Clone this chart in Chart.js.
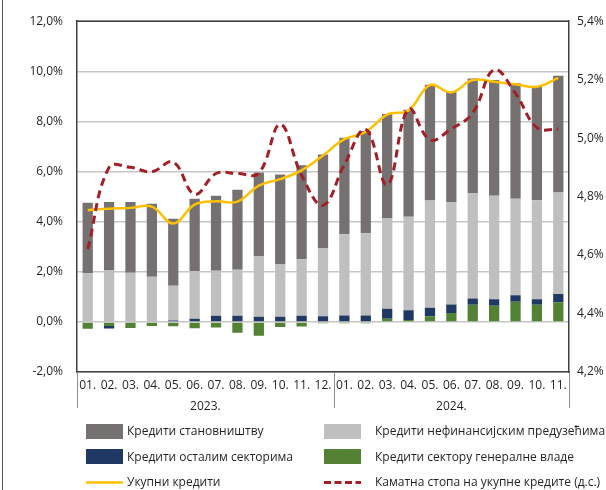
<!DOCTYPE html>
<html>
<head>
<meta charset="utf-8">
<script src="https://cdn.jsdelivr.net/npm/chart.js@4.4.1/dist/chart.umd.min.js"></script>
<style>
  body { margin: 0; background: #fff; }
  #wrap { position: relative; width: 606px; height: 490px; font-family: "Open Sans", sans-serif; color: #231f20; }
  #frame { position: absolute; left: 2px; top: 0; width: 1px; height: 490px; background: #555; }
  .item { position: absolute; font-size: 12px; line-height: 16px; white-space: nowrap; }
  .sw { position: absolute; width: 37px; height: 15px; }
  .sw svg { position: absolute; left: 0; top: 0; }
</style>
</head>
<body>
<div id="wrap">
  <canvas id="chart" width="606" height="490"></canvas>
  <div id="frame"></div>
  <div id="legend"></div>
</div>
<script>
// Month labels (2023-01 .. 2024-11) and year groups
const months = ['01.', '02.', '03.', '04.', '05.', '06.', '07.', '08.', '09.', '10.', '11.', '12.',
  '01.', '02.', '03.', '04.', '05.', '06.', '07.', '08.', '09.', '10.', '11.'];
const years = ['2023.', '2024.'];

// Contributions to credit growth, % (left axis)
const household = [2.81, 2.73, 2.82, 2.91, 2.68, 2.88, 2.99, 3.19, 3.33, 3.57, 3.75, 3.73,
  3.85, 4.08, 4.17, 4.27, 4.62, 4.41, 4.57, 4.62, 4.61, 4.56, 4.66];
const firms = [1.94, 2.05, 1.96, 1.80, 1.38, 1.90, 1.80, 1.84, 2.43, 2.11, 2.26, 2.73,
  3.25, 3.29, 3.61, 3.74, 4.28, 4.09, 4.21, 4.13, 3.85, 3.95, 4.05];
const others = [0.00, -0.10, 0.00, 0.00, 0.06, 0.13, 0.24, 0.24, 0.20, 0.20, 0.24, 0.22,
  0.25, 0.25, 0.39, 0.38, 0.34, 0.34, 0.25, 0.26, 0.26, 0.22, 0.33];
const government = [-0.27, -0.16, -0.24, -0.16, -0.17, -0.25, -0.22, -0.43, -0.55, -0.20, -0.18, -0.05,
  -0.05, -0.05, 0.13, 0.08, 0.22, 0.35, 0.68, 0.64, 0.80, 0.68, 0.78];
const total = [4.46, 4.52, 4.55, 4.60, 3.93, 4.68, 4.81, 4.80, 5.44, 5.70, 6.05, 6.64,
  7.29, 7.58, 8.27, 8.44, 9.45, 9.16, 9.65, 9.58, 9.48, 9.38, 9.74];

// Interest rate on total loans, % (right axis)
const rate = [4.62, 4.90, 4.90, 4.885, 4.918, 4.808, 4.879, 4.879, 4.88, 5.047, 4.873, 4.77,
  4.91, 5.03, 4.84, 5.10, 4.994, 5.032, 5.086, 5.234, 5.153, 5.036, 5.03];

const leftTicks = { min: -2, max: 12, step: 2 };
const rightTicks = { min: 4.2, max: 5.4, step: 0.2 };

const colors = {
  household: '#767171',
  firms: '#bfbfbf',
  others: '#1f3864',
  government: '#548235',
  total: '#ffc000',
  rate: '#a31f27',
};

const axisColor = '#404040';
const textColor = '#231f20';
const font = { family: '"Open Sans", sans-serif', size: 12 };
const pct = v => `${Number(v).toFixed(1).replace('.', ',')}%`;

// Year captions under the month labels, with separator lines
const yearPlugin = {
  id: 'yearGroups',
  afterDraw(chart) {
    const { ctx, chartArea: a, scales: { x } } = chart;
    ctx.save();
    // Top frame of the plot area
    ctx.strokeStyle = axisColor;
    ctx.lineWidth = 1.5;
    ctx.beginPath();
    ctx.moveTo(a.left, a.top);
    ctx.lineTo(a.right, a.top);
    ctx.stroke();

    const starts = months.map((m, i) => (m === '01.' ? i : -1)).filter(i => i >= 0);
    const edges = starts.map(s => (s === 0 ? x.left
      : (x.getPixelForValue(s - 1) + x.getPixelForValue(s)) / 2));
    edges.push(x.right);

    ctx.strokeStyle = '#8c8c8c';
    ctx.lineWidth = 1;
    edges.forEach((px) => {
      ctx.beginPath();
      ctx.moveTo(Math.round(px) + 0.5, a.bottom);
      ctx.lineTo(Math.round(px) + 0.5, a.bottom + 36);
      ctx.stroke();
    });

    ctx.fillStyle = textColor;
    ctx.font = `${font.size}px ${font.family}`;
    ctx.textAlign = 'center';
    ctx.textBaseline = 'middle';
    years.forEach((yr, k) => {
      ctx.fillText(yr, (edges[k] + edges[k + 1]) / 2, a.bottom + 35);
    });
    ctx.restore();
  },
};

const barSet = (label, data, color) => ({
  type: 'bar', label, data, backgroundColor: color, yAxisID: 'y', order: 2,
  categoryPercentage: 1, barPercentage: 0.48, stack: 'loans',
});

const chart = new Chart(document.getElementById('chart'), {
  data: {
    labels: months,
    datasets: [
      barSet('Кредити сектору генералне владе', government, colors.government),
      barSet('Кредити осталим секторима', others, colors.others),
      barSet('Кредити нефинансијским предузећима', firms, colors.firms),
      barSet('Кредити становништву', household, colors.household),
      {
        type: 'line', label: 'Укупни кредити', data: total, yAxisID: 'y', order: 1,
        borderColor: colors.total, borderWidth: 2.5, pointRadius: 0, tension: 0.4, fill: false,
      },
      {
        type: 'line', label: 'Каматна стопа на укупне кредите (д.с.)', data: rate, yAxisID: 'y1', order: 0,
        borderColor: colors.rate, borderWidth: 3, borderDash: [8, 5], pointRadius: 0, tension: 0.4, fill: false,
      },
    ],
  },
  options: {
    responsive: false,
    animation: false,
    devicePixelRatio: 1,
    layout: { padding: { top: 15, left: 0, right: 0, bottom: 0 } },
    plugins: { legend: { display: false }, tooltip: { enabled: false } },
    scales: {
      x: {
        stacked: true,
        grid: { display: false, drawTicks: false },
        border: { color: axisColor, width: 1.5 },
        ticks: { autoSkip: false, maxRotation: 0, padding: 6, color: textColor, font },
        afterFit: (s) => { s.height = 118; },
      },
      y: {
        stacked: true,
        position: 'left',
        min: leftTicks.min,
        max: leftTicks.max,
        grid: { color: '#c6c6c6', lineWidth: 1.5, drawTicks: false },
        border: { color: axisColor, width: 1.5 },
        ticks: { stepSize: leftTicks.step, padding: 14, color: textColor, font, callback: pct },
        afterFit: (s) => { s.width = 77; },
      },
      y1: {
        position: 'right',
        min: rightTicks.min,
        max: rightTicks.max,
        grid: { display: false, drawTicks: false },
        border: { color: axisColor, width: 1.5 },
        ticks: { stepSize: rightTicks.step, padding: 8, color: textColor, font, callback: pct },
        afterFit: (s) => { s.width = 37; },
      },
    },
  },
  plugins: [yearPlugin],
});

// Two-column legend below the chart
const legendRows = [
  [['Кредити становништву', 'box', colors.household], ['Кредити нефинансијским предузећима', 'box', colors.firms]],
  [['Кредити осталим секторима', 'box', colors.others], ['Кредити сектору генералне владе', 'box', colors.government]],
  [['Укупни кредити', 'line', colors.total], ['Каматна стопа на укупне кредите (д.с.)', 'dash', colors.rate]],
];
const rowY = [431, 456.5, 482];
const cols = [{ sw: 86, text: 127 }, { sw: 324, text: 375 }];
const legend = document.getElementById('legend');
legendRows.forEach((row, r) => {
  row.forEach(([label, kind, color], c) => {
    const sw = document.createElement('div');
    sw.className = 'sw';
    sw.style.left = `${cols[c].sw}px`;
    sw.style.top = `${rowY[r] - 7.5}px`;
    if (kind === 'box') {
      sw.style.background = color;
    } else {
      const dash = kind === 'dash' ? 'stroke-dasharray="7 3.5"' : '';
      sw.innerHTML = `<svg width="37" height="15"><line x1="0" y1="7.5" x2="37" y2="7.5" stroke="${color}" stroke-width="${kind === 'dash' ? 3 : 2.5}" ${dash}/></svg>`;
    }
    legend.appendChild(sw);
    const txt = document.createElement('div');
    txt.className = 'item';
    txt.style.left = `${cols[c].text}px`;
    txt.style.top = `${rowY[r] - 8}px`;
    txt.textContent = label;
    legend.appendChild(txt);
  });
});
</script>
</body>
</html>
